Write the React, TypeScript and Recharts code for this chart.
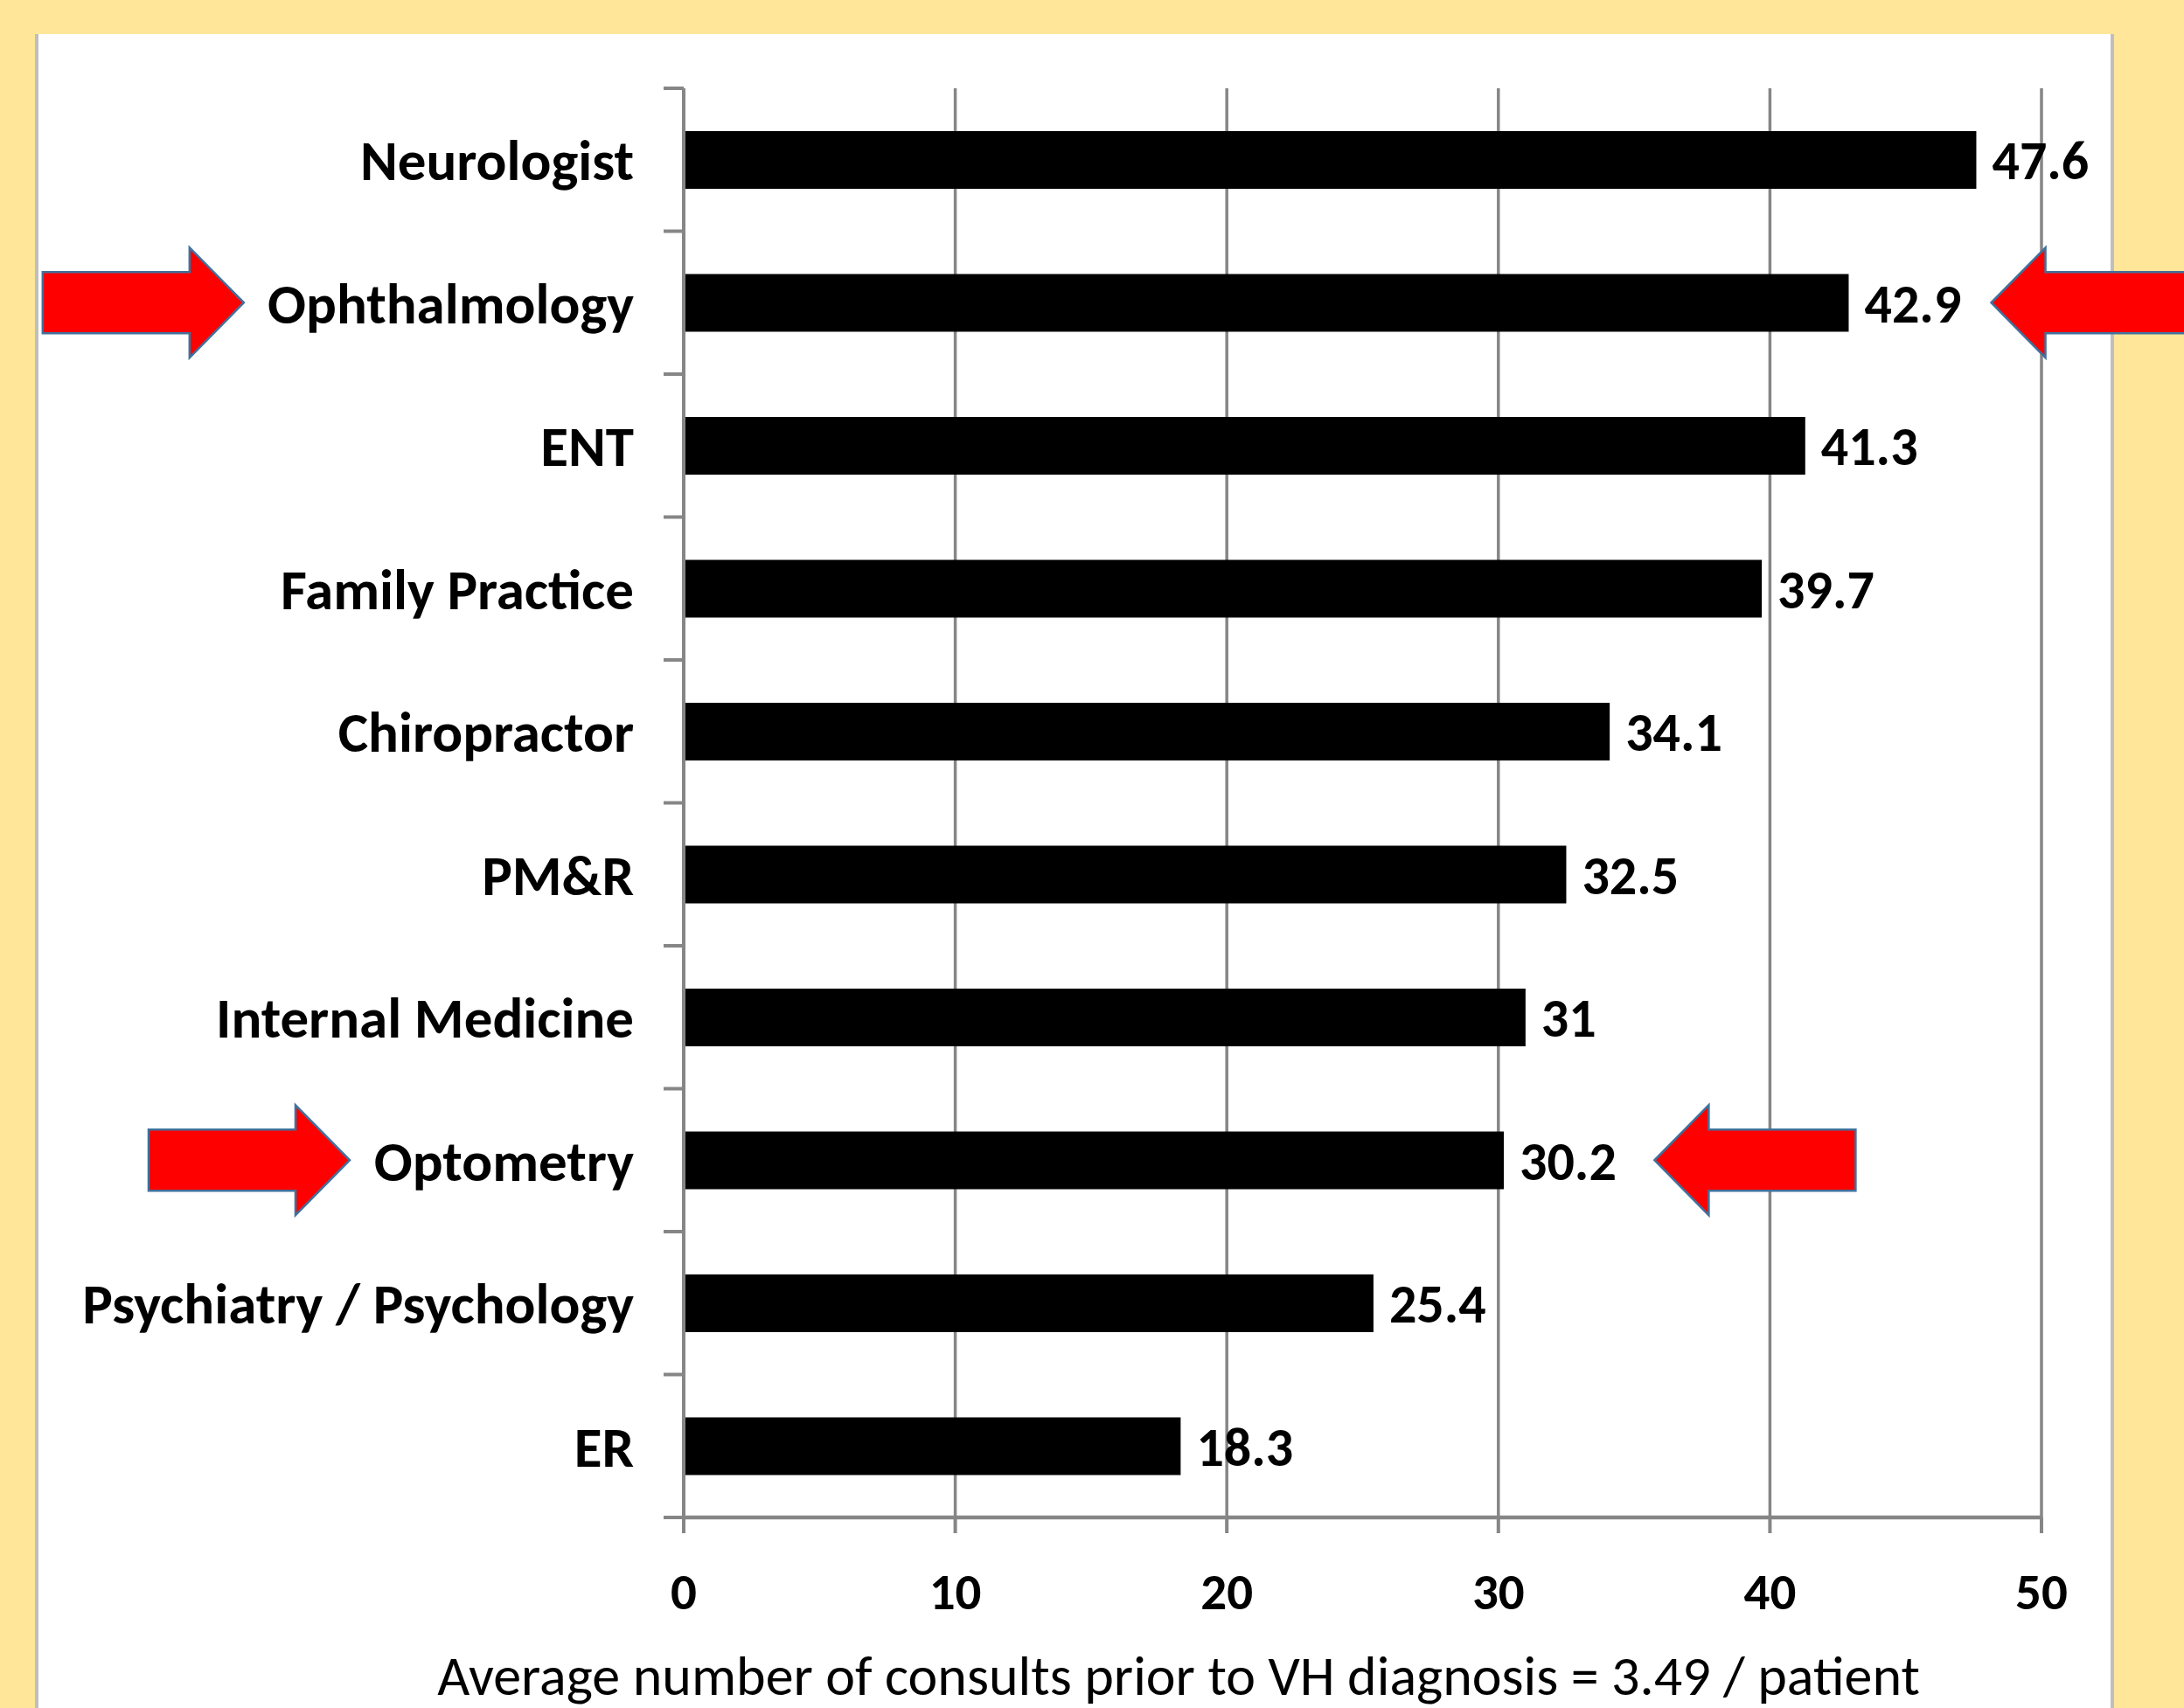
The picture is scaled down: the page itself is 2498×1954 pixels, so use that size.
import React from "react";
import {
  BarChart,
  Bar,
  XAxis,
  YAxis,
  CartesianGrid,
  LabelList,
  ReferenceDot,
} from "recharts";

const specialties = [
  "Neurologist",
  "Ophthalmology",
  "ENT",
  "Family Practice",
  "Chiropractor",
  "PM&R",
  "Internal Medicine",
  "Optometry",
  "Psychiatry / Psychology",
  "ER",
];
const consults = [47.6, 42.9, 41.3, 39.7, 34.1, 32.5, 31, 30.2, 25.4, 18.3];
const xTicks = [0, 10, 20, 30, 40, 50];
const footnote = "Average number of consults prior to VH diagnosis = 3.49 / patient";

// red callout arrows: which row, where the tip sits (in axis units), which way it points
const arrowRows = ["Ophthalmology", "Ophthalmology", "Optometry", "Optometry"];
const arrowTips = [-16.2, 48.15, -12.3, 35.75];
const arrowDirs = [1, -1, 1, -1];

const data = specialties.map((name, i) => ({ name, value: consults[i] }));

const W = 2498;
const H = 1954;
const PLOT_TOP = 101;
const PLOT_BOTTOM = 1736;
const AXIS_X = 782;
const PLOT_RIGHT = 2335;
const BAND = (PLOT_BOTTOM - PLOT_TOP) / specialties.length;
const GRID = "#868686";
const FONT = "Carlito, Lato, 'Open Sans', sans-serif";

function makeArrow(dir: number) {
  return (props: any) => {
    const { cx, cy } = props;
    const L = 230, HL = 62, HH = 63, SH = 35;
    const s = dir; // 1 = points right, -1 = points left
    const pts = [
      [cx, cy],
      [cx - s * HL, cy - HH],
      [cx - s * HL, cy - SH],
      [cx - s * L, cy - SH],
      [cx - s * L, cy + SH],
      [cx - s * HL, cy + SH],
      [cx - s * HL, cy + HH],
    ]
      .map((p) => p.join(","))
      .join(" ");
    return <polygon points={pts} fill="#FF0000" stroke="#41719C" strokeWidth={2.5} />;
  };
}

function CategoryTick(props: any) {
  const { x, y, payload, index } = props;
  const last = index === specialties.length - 1;
  return (
    <g>
      <line x1={x - 23} x2={x} y1={y - BAND / 2} y2={y - BAND / 2} stroke={GRID} strokeWidth={4} />
      {last && (
        <line x1={x - 23} x2={x} y1={y + BAND / 2} y2={y + BAND / 2} stroke={GRID} strokeWidth={4} />
      )}
      <text
        x={x - 57}
        y={y}
        dy="0.36em"
        textAnchor="end"
        fontFamily={FONT}
        fontWeight="bold"
        fontSize={65}
        fill="#000"
      >
        {payload.value}
      </text>
    </g>
  );
}

export default function App() {
  return (
    <div style={{ position: "absolute", left: 0, top: 0, width: W, height: H, background: "#FFE699", overflow: "hidden" }}>
      <div
        style={{
          position: "absolute",
          left: 40,
          top: 39,
          width: 2378,
          height: H - 39,
          background: "#fff",
          borderLeft: "4px solid #BFBFBF",
          borderRight: "4px solid #BFBFBF",
          boxSizing: "border-box",
        }}
      />
      <div style={{ position: "absolute", left: 0, top: 0 }}>
        <BarChart
          width={W}
          height={H}
          data={data}
          layout="vertical"
          margin={{ top: PLOT_TOP, right: W - PLOT_RIGHT, bottom: H - PLOT_BOTTOM - 120, left: 0 }}
        >
          <CartesianGrid horizontal={false} stroke={GRID} strokeWidth={3.5} />
          <XAxis
            type="number"
            domain={[0, 50]}
            ticks={xTicks}
            interval={0}
            height={120}
            axisLine={{ stroke: GRID, strokeWidth: 4.5 }}
            tickLine={{ stroke: GRID, strokeWidth: 4 }}
            tickSize={18}
            tickMargin={45}
            tick={{ fill: "#000", fontSize: 59, fontWeight: "bold", fontFamily: FONT }}
          />
          <YAxis
            type="category"
            dataKey="name"
            width={AXIS_X}
            interval={0}
            axisLine={{ stroke: GRID, strokeWidth: 4 }}
            tickLine={false}
            tickSize={0}
            tickMargin={0}
            tick={<CategoryTick />}
          />
          <Bar dataKey="value" fill="#000" barSize={66} isAnimationActive={false}>
            <LabelList
              dataKey="value"
              position="right"
              offset={18}
              fill="#000"
              fontSize={62}
              fontWeight="bold"
              fontFamily={FONT}
            />
          </Bar>
          {arrowRows.map((row, i) => (
            <ReferenceDot
              key={i}
              x={arrowTips[i]}
              y={row}
              r={0}
              ifOverflow="visible"
              shape={makeArrow(arrowDirs[i])}
            />
          ))}
        </BarChart>
      </div>
      <div
        style={{
          position: "absolute",
          left: 1348 - 1100,
          width: 2200,
          top: 1885,
          textAlign: "center",
          fontFamily: FONT,
          fontSize: 64,
          lineHeight: "64px",
          color: "#000",
          whiteSpace: "nowrap",
        }}
      >
        {footnote}
      </div>
    </div>
  );
}
